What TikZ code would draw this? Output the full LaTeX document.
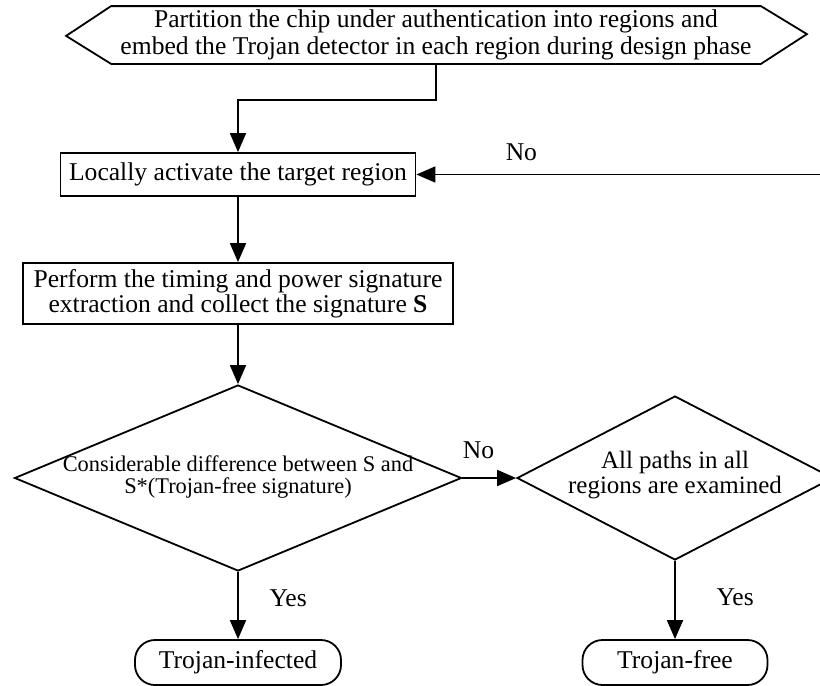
\documentclass[tikz,border=0pt]{standalone}
\usepackage{fontspec}
\setmainfont{Liberation Serif}
\usetikzlibrary{arrows.meta, shapes.geometric}

\begin{document}
\begin{tikzpicture}[x=0.5pt, y=-0.5pt, line width=0.9pt,
		flow/.style={-{Triangle[length=9.5pt, width=8pt]}},
		body text/.style={font=\fontsize{12.8}{13.5}\selectfont},
		stepbox/.style={draw, body text, inner sep=0pt, align=center},
		decision/.style={diamond, draw, inner sep=0pt},
		terminal/.style={draw, body text, rounded corners=10pt, inner sep=0pt,
			minimum width=#1, minimum height=22.5pt}]
			\def\W{820};
			\def\H{686};
			\def\cx{238};

			\useasboundingbox (0,0) rectangle (\W,\H);
			\clip (0,0) rectangle (\W,\H);

			% design phase
			\node (partition) [body text, align=center, inner sep=0pt,
				minimum width=324pt, minimum height=28pt] at (436,35)
				{Partition the chip under authentication into regions and\\
				 embed the Trojan detector in each region during design phase};
			\draw (partition.north west) -- (partition.north east) -- ++(46,28)
				-- (partition.south east) -- (partition.south west) -- ++(-45,-28) -- cycle;

			\node (activate) [stepbox, minimum width=177.5pt, minimum height=21.5pt]
				at (\cx,174.5) {Locally activate the target region};
			\node (extract) [stepbox, minimum width=215pt, minimum height=30.5pt,
				font=\fontsize{12.8}{11.5}\selectfont] at (\cx,293.5)
				{Perform the timing and power signature\\
				 extraction and collect the signature \textbf{S}};

			% decisions
			\node (difference) [decision, minimum width=223.5pt, minimum height=93pt]
				at (\cx,478) {};
			\node (difference text) [align=center, inner sep=0pt,
				font=\fontsize{11.2}{11}\selectfont] at (\cx,477)
				{Considerable difference between S and\\S*(Trojan-free signature)};

			\node (examined) [decision, minimum width=158pt, minimum height=82pt]
				at (675,478) {};
			\node (examined text) [align=center, inner sep=0pt,
				font=\fontsize{12.5}{12.5}\selectfont] at (675,475.5)
				{All paths in all\\regions are examined};

			% outcomes
			\node (infected) [terminal=103pt] at (\cx,662.5) {Trojan-infected};
			\node (free) [terminal=92.5pt] at (675,662.5) {Trojan-free};

			\begin{scope}[flow, body text]
				\draw (partition.south) -- ++(0,36) -| (activate.north);
				\draw (activate.south) -- (extract.north);
				\draw (extract.south) -- (difference.north);
				\draw (difference.south) -- node [pos=0.39, right=12pt] {Yes} (infected.north);
				\draw (difference.east) -- node [pos=0.3, above=6pt] {No} (examined.west);
				\draw (examined.south) -- node [pos=0.47, right=17pt] {Yes} (free.north);
				\draw (examined.east) -- ++(20,0) |- node [pos=0.88, above=3pt] {No} (activate.east);
			\end{scope}
		\end{tikzpicture}
\end{document}
